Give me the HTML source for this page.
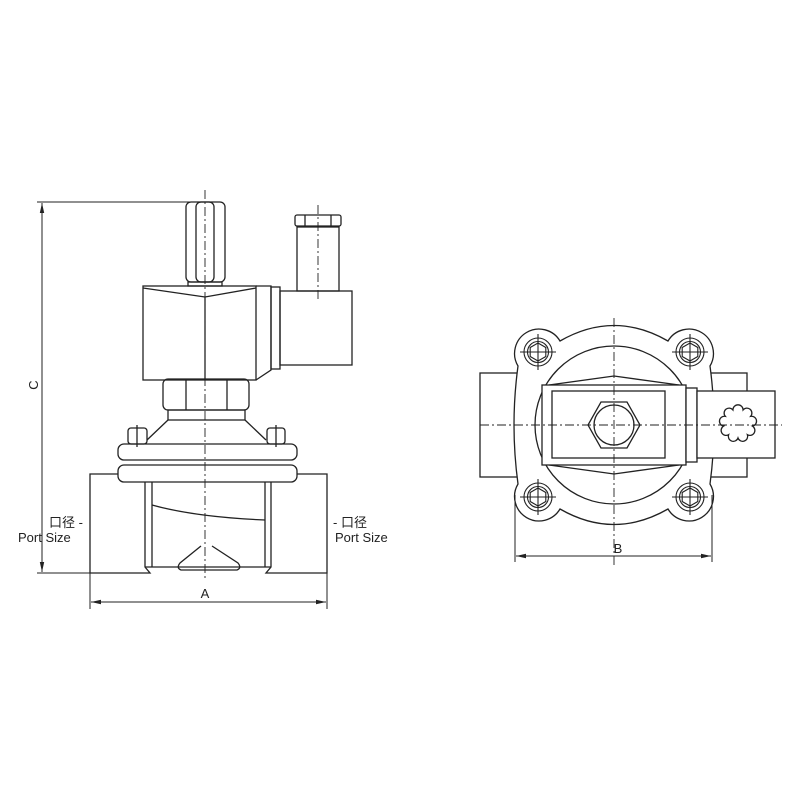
<!DOCTYPE html>
<html><head><meta charset="utf-8"><style>
html,body{margin:0;padding:0;background:#fff}
svg{display:block}
text{font-family:"Liberation Sans","Noto Sans CJK SC",sans-serif;fill:#222}
</style></head><body>
<svg width="800" height="800" viewBox="0 0 800 800" xmlns="http://www.w3.org/2000/svg">
<defs>
<marker id="ar" markerWidth="10" markerHeight="6" refX="10" refY="3" orient="auto-start-reverse" markerUnits="userSpaceOnUse">
<path d="M0,0.8 L10,3 L0,5.2 Z" fill="#222"/></marker>
<g id="bolt" fill="none" stroke="#222" stroke-width="1.1">
<circle r="14"/><circle r="10.5"/>
<polygon points="0,-9 7.8,-4.5 7.8,4.5 0,9 -7.8,4.5 -7.8,-4.5"/>
<line x1="-18" y1="0" x2="18" y2="0"/><line x1="0" y1="-18" x2="0" y2="18"/>
</g>
</defs>
<g fill="none" stroke="#222" stroke-width="1.3">
<line x1="37" y1="202" x2="192" y2="202" stroke-width="1"/>
<line x1="37" y1="573" x2="90" y2="573" stroke-width="1"/>
<line x1="42" y1="203" x2="42" y2="572" stroke-width="1" marker-start="url(#ar)" marker-end="url(#ar)"/>
<line x1="90" y1="573" x2="90" y2="609" stroke-width="1"/>
<line x1="327" y1="573" x2="327" y2="609" stroke-width="1"/>
<line x1="91" y1="602" x2="326" y2="602" stroke-width="1" marker-start="url(#ar)" marker-end="url(#ar)"/>
<rect x="186" y="202" width="39" height="80" rx="5"/>
<rect x="196" y="202" width="18" height="80" rx="5"/>
<rect x="188" y="282" width="34" height="4"/>
<rect x="143" y="286" width="113" height="94"/>
<polyline points="143,288 205,297 256,288"/>
<line x1="205" y1="297" x2="205" y2="380"/>
<path d="M256,286 H271 V370 L256,380"/>
<rect x="271" y="287" width="9" height="82"/>
<rect x="280" y="291" width="72" height="74"/>
<rect x="297" y="227" width="42" height="64"/>
<rect x="295" y="215" width="46" height="11" rx="2"/>
<line x1="305" y1="215" x2="305" y2="226"/><line x1="331" y1="215" x2="331" y2="226"/>
<rect x="163" y="379" width="86" height="31" rx="5"/>
<line x1="186" y1="380" x2="186" y2="410"/><line x1="227" y1="380" x2="227" y2="410"/>
<rect x="168" y="410" width="77" height="10"/>
<line x1="168" y1="420" x2="147" y2="440"/><line x1="245" y1="420" x2="266" y2="440"/>
<rect x="128" y="428" width="19" height="16" rx="3"/>
<rect x="267" y="428" width="18" height="16" rx="3"/>
<line x1="137" y1="425" x2="137" y2="447"/><line x1="276" y1="425" x2="276" y2="447"/>
<rect x="118" y="444" width="179" height="16" rx="6"/>
<rect x="118" y="465" width="179" height="17" rx="6"/>
<path d="M118,474 H90 V573 H150 L145,567 V482"/>
<path d="M297,474 H327 V573 H266 L271,567 V482"/>
<line x1="152" y1="482" x2="152" y2="567"/><line x1="265" y1="482" x2="265" y2="567"/>
<line x1="145" y1="567" x2="271" y2="567"/>
<path d="M152,505 Q195,517 265,520"/>
<path d="M201,546 L180,563 Q176,568 181,570 H237 Q242,568 238,563 L212,546"/>
<rect x="480" y="373" width="40" height="104"/>
<rect x="700" y="373" width="47" height="104"/>
<path d="M560,341 Q614,310 668,341 A24,24 0 1 1 710,366 Q718,425 710,484 A24,24 0 1 1 668,509 Q614,540 560,509 A24,24 0 1 1 518,484 Q510,425 518,366 A24,24 0 1 1 560,341 Z" fill="#fff"/>
<circle cx="614" cy="425" r="79" fill="#fff"/>
<polyline points="549,385 614,376 679,385"/>
<polyline points="549,465 614,474 679,465"/>
<rect x="542" y="385" width="144" height="80" fill="#fff"/>
<rect x="552" y="391" width="113" height="67"/>
<rect x="686" y="388" width="11" height="74" fill="#fff"/>
<rect x="697" y="391" width="78" height="67" fill="#fff"/>
<path d="M743.1,409.9 A4.4,4.4 0 1 1 750.7,416.3 A4.4,4.4 0 1 1 752.4,426.1 A4.4,4.4 0 1 1 747.4,434.7 A4.4,4.4 0 1 1 738,438 A4.4,4.4 0 1 1 728.6,434.7 A4.4,4.4 0 1 1 723.6,426.1 A4.4,4.4 0 1 1 725.3,416.3 A4.4,4.4 0 1 1 732.9,409.9 A4.4,4.4 0 1 1 743.1,409.9 Z"/>
<polygon points="601,402 627,402 640,425 627,448 601,448 588,425"/>
<circle cx="614" cy="425" r="20"/>
<line x1="515" y1="495" x2="515" y2="562" stroke-width="1"/>
<line x1="712" y1="495" x2="712" y2="562" stroke-width="1"/>
<line x1="516" y1="556" x2="711" y2="556" stroke-width="1" marker-start="url(#ar)" marker-end="url(#ar)"/>
<g stroke-width="0.9" stroke-dasharray="9,3,2,3">
<line x1="205" y1="190" x2="205" y2="580"/>
<line x1="318" y1="205" x2="318" y2="300"/>
<line x1="614" y1="318" x2="614" y2="565"/>
<line x1="480" y1="425" x2="782" y2="425"/>
</g>
</g>
<use href="#bolt" x="538" y="352"/><use href="#bolt" x="690" y="352"/>
<use href="#bolt" x="538" y="497"/><use href="#bolt" x="690" y="497"/>
<text x="38" y="385" font-size="13" transform="rotate(-90 38 385)" text-anchor="middle">C</text>
<text x="205" y="598" font-size="13" text-anchor="middle">A</text>
<text x="618" y="553" font-size="13" text-anchor="middle">B</text>
<text x="49" y="527" font-size="13">口径 -</text>
<text x="18" y="542" font-size="13">Port Size</text>
<text x="333" y="527" font-size="13">- 口径</text>
<text x="335" y="542" font-size="13">Port Size</text>
</svg>
</body></html>
